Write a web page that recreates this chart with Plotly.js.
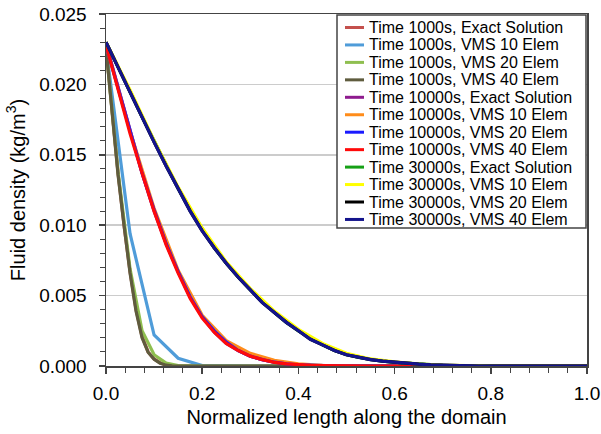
<!DOCTYPE html>
<html>
<head>
<meta charset="utf-8">
<script src="https://cdn.plot.ly/plotly-3.0.1.min.js"></script>
<style>html,body{margin:0;padding:0;background:#fff;}#chart{width:601px;height:434px;}</style>
</head>
<body>
<div id="chart"></div>
<script>
// x positions (normalized length)
const xStep05 = [0,0.05,0.1,0.15,0.2,0.25,0.3,0.35,0.4,0.45,0.5,0.55,0.6,0.65,0.7,0.75,0.8,0.85,0.9,0.95,1.0];
const xStep025 = [0,0.025,0.05,0.075,0.1,0.125,0.15,0.175,0.2,0.225,0.25,0.275,0.3,0.325,0.35,0.375,0.4,0.425,0.45,0.475,0.5,0.525,0.55,0.575,0.6,0.625,0.65,0.675,0.7,0.725,0.75,0.775,0.8,0.825,0.85,0.875,0.9,0.925,0.95,0.975,1.0];
const xFine = [0,0.0125,0.025,0.0375,0.05,0.0625,0.075,0.0875,0.1,0.1125,0.125,0.1375,0.15,0.2,0.25,0.3,0.35,0.4,0.45,0.5,0.55,0.6,0.65,0.7,0.75,0.8,0.85,0.9,0.95,1.0];

// fluid density (kg/m3)
const t1000Exact = [0.0227,0.0184,0.0137,0.0100,0.0067,0.0040,0.0021,0.0010,0.0005,0.00022,0.00007,0.00002,0,0,0,0,0,0,0,0,0,0,0,0,0,0,0,0,0,0];
const t1000V10 = [0.0226,0.0094,0.0022,0.00055,0.00003,0,0,0,0,0,0,0,0,0,0,0,0,0,0,0,0];
const t1000V20 = [0.0226,0.0138,0.0069,0.0025,0.0008,0.0002,0.00003,0,0,0,0,0,0,0,0,0,0,0,0,0,0,0,0,0,0,0,0,0,0,0,0,0,0,0,0,0,0,0,0,0,0];
const t1000V40 = [0.0226,0.0183,0.0136,0.0100,0.0066,0.0039,0.0020,0.00098,0.00048,0.0002,0.00006,0.00001,0,0,0,0,0,0,0,0,0,0,0,0,0,0,0,0,0,0];

const t10000Exact = [0.0229,0.0198,0.0166,0.0137,0.0110,0.0087,0.0067,0.0049,0.0035,0.0024,0.0016,0.0011,0.0007,0.00045,0.00027,0.00016,0.00009,0.00005,0.00003,0.00001,0,0,0,0,0,0,0,0,0,0,0,0,0,0,0,0,0,0,0,0,0];
const t10000V10 = [0.0228,0.0167,0.0112,0.0068,0.0036,0.0018,0.0009,0.0004,0.00016,0.00005,0.00001,0,0,0,0,0,0,0,0,0,0];
const t10000V20 = [0.0228,0.0197,0.0166,0.0137,0.0111,0.0087,0.0067,0.0049,0.0035,0.0025,0.0017,0.0011,0.0007,0.00045,0.00027,0.00015,0.00009,0.00005,0.00002,0.00001,0,0,0,0,0,0,0,0,0,0,0,0,0,0,0,0,0,0,0,0,0];
const t10000V40 = [0.0228,0.0197,0.0165,0.0137,0.0110,0.0086,0.0066,0.0048,0.0034,0.0024,0.0016,0.0011,0.0007,0.00045,0.00026,0.00015,0.00009,0.00005,0.00003,0.00001,0,0,0,0,0,0,0,0,0,0,0,0,0,0,0,0,0,0,0,0,0];

const t30000Exact = [0.0230,0.0212,0.0195,0.0177,0.0160,0.0143,0.0126,0.0111,0.0097,0.0084,0.0073,0.0063,0.0054,0.0046,0.0038,0.0031,0.0025,0.0020,0.0015,0.0011,0.0008,0.0006,0.00045,0.00035,0.00026,0.0002,0.00013,0.00008,0.00005,0.00003,0.00001,0,0,0,0,0,0,0,0,0,0];
const t30000V10 = [0.0230,0.0196,0.0160,0.0127,0.0098,0.0074,0.0055,0.0039,0.0026,0.0016,0.0009,0.0005,0.0003,0.00014,0.00006,0.00002,0,0,0,0,0];
const t30000V20 = [0.0230,0.0212,0.0195,0.0177,0.0159,0.0142,0.0126,0.0110,0.0096,0.0084,0.0073,0.0063,0.0054,0.0045,0.0038,0.0031,0.0025,0.0019,0.0015,0.0011,0.0008,0.0006,0.00045,0.00035,0.00026,0.0002,0.00013,0.00008,0.00005,0.00003,0.00001,0,0,0,0,0,0,0,0,0,0];
const t30000V40 = [0.0230,0.0212,0.0195,0.0177,0.0159,0.0142,0.0126,0.0110,0.0096,0.0084,0.0073,0.0063,0.0054,0.0045,0.0038,0.0031,0.0025,0.0019,0.0015,0.0011,0.0008,0.0006,0.00045,0.00035,0.00026,0.0002,0.00013,0.00008,0.00005,0.00003,0.00001,0,0,0,0,0,0,0,0,0,0];

const seriesNames = [
  'Time 1000s, Exact Solution','Time 1000s, VMS 10 Elem','Time 1000s, VMS 20 Elem','Time 1000s, VMS 40 Elem',
  'Time 10000s, Exact Solution','Time 10000s, VMS 10 Elem','Time 10000s, VMS 20 Elem','Time 10000s, VMS 40 Elem',
  'Time 30000s, Exact Solution','Time 30000s, VMS 10 Elem','Time 30000s, VMS 20 Elem','Time 30000s, VMS 40 Elem'
];
const seriesX = [xFine,xStep05,xStep025,xFine, xStep025,xStep05,xStep025,xStep025, xStep025,xStep05,xStep025,xStep025];
const seriesY = [t1000Exact,t1000V10,t1000V20,t1000V40, t10000Exact,t10000V10,t10000V20,t10000V40, t30000Exact,t30000V10,t30000V20,t30000V40];
const seriesColors = ['#c4504d','#4f9cd9','#8fbf50','#5f5c3e','#8e1b8e','#ff8c1a','#1a1aff','#ff0a0a','#16a016','#ffff00','#000000','#14148c'];

const traces = seriesNames.map((n,i)=>({
  type:'scatter', mode:'lines', name:n, x:seriesX[i], y:seriesY[i],
  line:{color:seriesColors[i], width:3.2}
}));

// plot-area geometry (px) used to place the legend box
const W = 601, H = 434, ML = 106, MR = 14, MT = 14, MB = 68;
const PW = W-ML-MR, PH = H-MT-MB;
const px = v => (v-ML)/PW;
const py = v => (H-MB-v)/PH;

const FONT = 'Liberation Sans, Arial, Helvetica, sans-serif';
const legLeft = 337, legRight = 586, legTop = 15, legBottom = 228;
const rowTop = 27.5, rowStep = 17.45;

const shapes = [{type:'rect', xref:'paper', yref:'paper', x0:px(legLeft), x1:px(legRight), y0:py(legBottom), y1:py(legTop),
                 fillcolor:'#fff', line:{color:'#444', width:1.5}, layer:'above'}];
const annotations = [];
seriesNames.forEach((n,i)=>{
  const yc = rowTop + i*rowStep;
  shapes.push({type:'line', xref:'paper', yref:'paper', x0:px(345), x1:px(364), y0:py(yc), y1:py(yc),
               line:{color:seriesColors[i], width:3}, layer:'above'});
  annotations.push({xref:'paper', yref:'paper', x:px(368), y:py(yc), xanchor:'left', yanchor:'middle',
                    text:n, showarrow:false, font:{family:FONT, size:16, color:'#000'}, borderpad:0});
});

const layout = {
  width:W, height:H,
  margin:{l:ML, r:MR, t:MT, b:MB},
  paper_bgcolor:'#fff', plot_bgcolor:'#fff',
  font:{family:FONT, color:'#000'},
  showlegend:false,
  shapes:shapes, annotations:annotations,
  xaxis:{range:[0,1], tick0:0, dtick:0.2, tickformat:'.1f', ticks:'outside', ticklen:6, tickwidth:1.5, tickcolor:'#444',
         showline:true, linecolor:'#444', linewidth:1.5, mirror:true, showgrid:false, zeroline:false,
         tickfont:{size:19}, ticklabelstandoff:4,
         minor:{dtick:0.04, ticks:'outside', ticklen:5, tickwidth:1, tickcolor:'#444', showgrid:false},
         title:{text:'Normalized length along the domain', font:{size:20}, standoff:6}},
  yaxis:{range:[0,0.025], tick0:0, dtick:0.005, tickformat:'.3f', ticks:'outside', ticklen:6, tickwidth:1.5, tickcolor:'#444',
         showline:true, linecolor:'#444', linewidth:1.5, mirror:true, showgrid:true, gridcolor:'#cccccc', gridwidth:1.5, zeroline:false,
         tickfont:{size:19}, ticklabelstandoff:8,
         minor:{dtick:0.001, ticks:'outside', ticklen:5, tickwidth:1, tickcolor:'#444', showgrid:false},
         title:{text:'Fluid density (kg/m<sup>3</sup>)', font:{size:20}, standoff:8}}
};
Plotly.newPlot('chart', traces, layout, {staticPlot:true, displayModeBar:false});
</script>
</body>
</html>
